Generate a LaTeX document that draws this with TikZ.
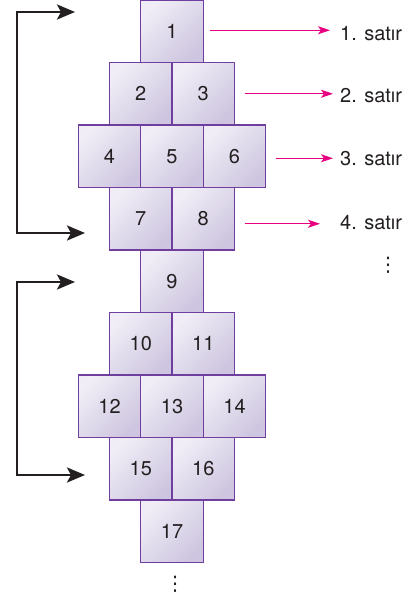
\documentclass[tikz,border=0pt]{standalone}
\usepackage{fontspec}
\setmainfont{TeX Gyre Heros}
\newfontfamily\symfont{DejaVu Sans}
\usetikzlibrary{positioning,arrows.meta}
\definecolor{cellline}{RGB}{112,62,158}
\definecolor{celltop}{RGB}{240,237,246}
\definecolor{cellbot}{RGB}{206,198,224}
\definecolor{rowpink}{RGB}{232,0,128}
\definecolor{ink}{RGB}{35,31,32}
\newcommand{\tripledots}{{\symfont ⋮}}
\tikzset{every node/.style={align=center}, font=\fontsize{20}{24}\selectfont, text=ink}

\begin{document}
\begin{tikzpicture}[x=1pt, y=-1pt, node distance=0pt,
    cell/.style={draw=cellline, line width=1.4pt, minimum width=62.5pt, minimum height=62.5pt,
                 inner sep=0pt, outer sep=0pt, top color=celltop, bottom color=cellbot, shading angle=45},
    rowlabel/.style={anchor=west, inner sep=2pt},
    pinkarrow/.style={draw=rowpink, line width=1.3pt, -{Stealth[length=12pt,width=8pt,inset=3pt]}},
    backarrow/.style={draw=ink, line width=2.6pt,
                 {Stealth[length=18pt,width=15pt,inset=4pt]}-{Stealth[length=18pt,width=15pt,inset=4pt]}}]
    \useasboundingbox (0,0) rectangle (412,598);

    % first block
    \node[cell] (b1) at (172,31.25) {1};
    \node[cell] (b2) at (140.75,93.75) {2};
    \node[cell] (b3) [right=of b2] {3};
    \node[cell] (b4) at (109.5,156.25) {4};
    \node[cell] (b5) [right=of b4] {5};
    \node[cell] (b6) [right=of b5] {6};
    \node[cell] (b7) at (140.75,218.75) {7};
    \node[cell] (b8) [right=of b7] {8};

    % second block
    \node[cell] (b9) at (172,281.25) {9};
    \node[cell] (b10) at (140.75,343.75) {10};
    \node[cell] (b11) [right=of b10] {11};
    \node[cell] (b12) at (109.5,406.25) {12};
    \node[cell] (b13) [right=of b12] {13};
    \node[cell] (b14) [right=of b13] {14};
    \node[cell] (b15) at (140.75,468.75) {15};
    \node[cell] (b16) [right=of b15] {16};
    \node[cell] (b17) at (172,531.25) {17};
    \node (dots1) at (175,584) {\tripledots};

    % row labels
    \node[rowlabel] (l1) at (338,34) {1. satır};
    \node[rowlabel] (l2) at (338,96) {2. satır};
    \node[rowlabel] (l3) at (338,159) {3. satır};
    \node[rowlabel] (l4) at (338,222.5) {4. satır};
    \node (dots2) at (388,265) {\tripledots};

    \draw[pinkarrow, shorten >=15pt] ([xshift=7pt,yshift=1pt]b1.east) -- ([xshift=7pt,yshift=1pt]b1.east -| l1.west);
    \draw[pinkarrow, shorten >=15pt] ([xshift=10pt]b3.east) -- ([xshift=10pt]b3.east -| l2.west);
    \draw[pinkarrow, shorten >=15pt] ([xshift=10pt,yshift=-2pt]b6.east) -- ([xshift=10pt,yshift=-2pt]b6.east -| l3.west);
    \draw[pinkarrow, shorten >=28pt] ([xshift=10pt,yshift=-5pt]b8.east) -- ([xshift=10pt,yshift=-5pt]b8.east -| l4.west);

    % return arrows on the left
    \coordinate (up1) at (75,12);
    \coordinate (k1) at (17,12);
    \coordinate (dn1) at (85,233);
    \draw[backarrow] (up1) -- (k1) |- (dn1);
    \coordinate (up2) at (75,282);
    \coordinate (k2) at (17,282);
    \coordinate (dn2) at (85,475);
    \draw[backarrow] (up2) -- (k2) |- (dn2);
\end{tikzpicture}
\end{document}
